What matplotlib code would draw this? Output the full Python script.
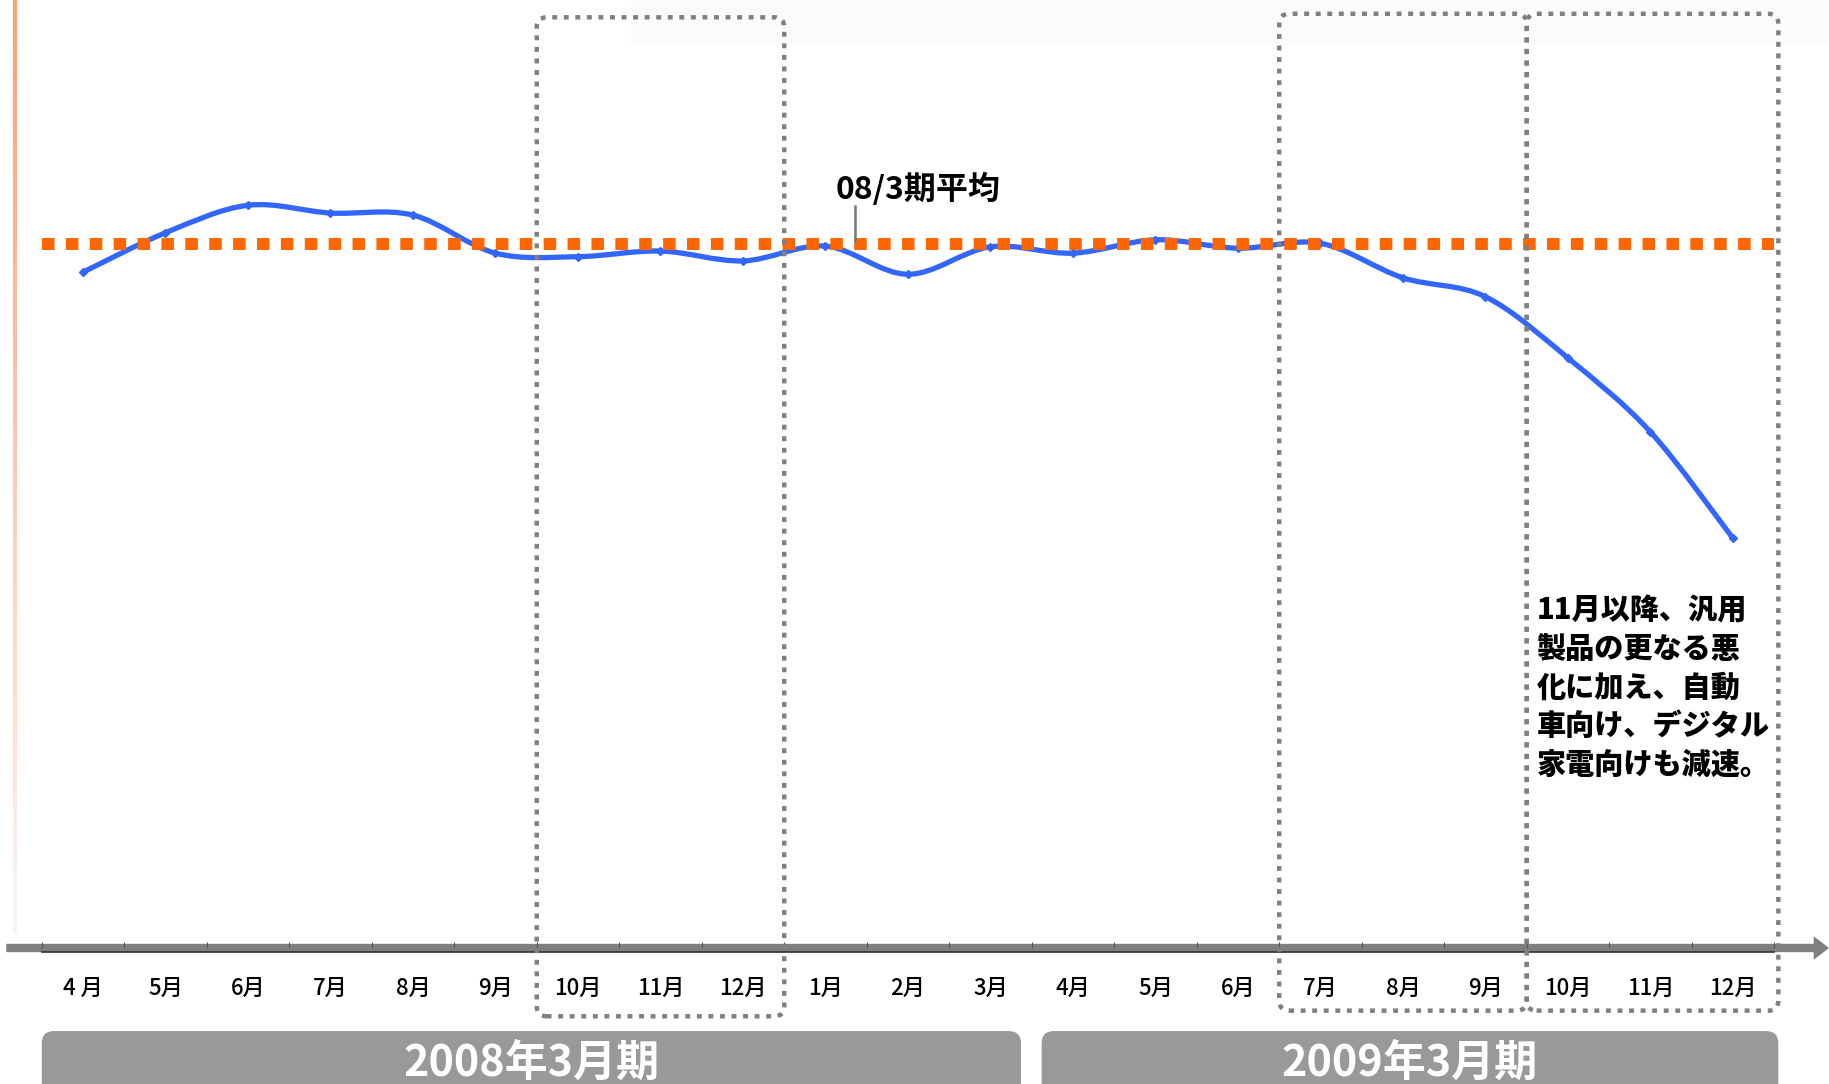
import numpy as np
import matplotlib.pyplot as plt
from matplotlib.path import Path
from matplotlib.patches import PathPatch, FancyBboxPatch, FancyArrowPatch, Rectangle
from matplotlib.collections import LineCollection

plt.rcParams['font.family'] = ['Noto Sans CJK JP', 'DejaVu Sans']

# monthly index (08/3 average = 100)
MONTHS = ['4 月', '5月', '6月', '7月', '8月', '9月', '10月', '11月', '12月', '1月', '2月', '3月',
          '4月', '5月', '6月', '7月', '8月', '9月', '10月', '11月', '12月']
VALUES = [96.0, 101.6, 105.5, 104.4, 104.1, 98.7, 98.2, 99.0, 97.6, 99.7, 95.7, 99.6,
          98.7, 100.6, 99.4, 100.1, 95.2, 92.5, 83.8, 73.3, 58.2]
AVG_0803 = 100.0
AVG_LABEL = '08/3期平均'
PERIODS = ['2008年3月期', '2009年3月期']
PERIOD_SPANS = [(-0.5, 11.37), (11.62, 20.55)]
HIGHLIGHT_SPANS = [(5.5, 8.5, -9.7, 132.2), (14.5, 17.5, -8.9, 132.7), (17.5, 20.55, -8.9, 132.7)]
NOTE = ['11月以降、汎用', '製品の更なる悪', '化に加え、自動', '車向け、デジタル', '家電向けも減速。']

BLUE = '#3366ff'
ORANGE = '#ff6600'
GRAY = '#808080'


def smooth_path(x, y):
    # catmull-rom style bezier through the points (like excel smoothed lines)
    verts = [(x[0], y[0])]
    codes = [Path.MOVETO]
    n = len(x)
    for i in range(n - 1):
        p0 = max(i - 1, 0)
        p3 = min(i + 2, n - 1)
        c1 = (x[i] + (x[i + 1] - x[p0]) / 6, y[i] + (y[i + 1] - y[p0]) / 6)
        c2 = (x[i + 1] - (x[p3] - x[i]) / 6, y[i + 1] - (y[p3] - y[i]) / 6)
        verts += [c1, c2, (x[i + 1], y[i + 1])]
        codes += [Path.CURVE4] * 3
    return Path(verts, codes)


fig = plt.figure(figsize=(18.29, 10.84), dpi=100)
ax = fig.add_axes([0, 0, 1, 1])
ax.set_xlim(-1.006, 21.164)
ax.set_ylim(-19.32, 134.66)
ax.axis('off')
aspect = (1829 / 22.17) / (1084 / 153.98)

x = np.arange(len(VALUES))

# faint background strip at top and orange fading edge on the left
ax.add_patch(Rectangle((6.64, 128.3), 15, 10, color='#fbfbfd', lw=0, zorder=0))
ys = np.linspace(134.66, 2, 60)
segs = [[(-0.824, ys[i]), (-0.824, ys[i + 1])] for i in range(len(ys) - 1)]
alphas = np.linspace(0.9, 0.1, len(segs))
cols = [(0.94, 0.6, 0.42, a) for a in alphas]
ax.add_collection(LineCollection(segs, colors=cols, linewidths=3, zorder=1))

# data line
ax.add_patch(PathPatch(smooth_path(x, VALUES), fill=False, edgecolor=BLUE, lw=3.8,
                       capstyle='round', joinstyle='round', zorder=3))
ax.plot(x, VALUES, ls='none', marker='D', ms=4, color=BLUE, zorder=3)

# 08/3 average
ax.plot([-0.5, 20.5], [AVG_0803, AVG_0803], color=ORANGE, lw=8.6, dashes=(1.05, 0.95),
        dash_capstyle='butt', solid_capstyle='butt', zorder=4)
ax.plot([9.36, 9.36], [AVG_0803 + 0.4, AVG_0803 + 5.4], color='#777777', lw=1.8, zorder=4)
ax.text(9.12, 107.7, AVG_LABEL, fontsize=23, fontweight='bold', ha='left', va='center', zorder=6)

# highlight boxes
for x0, x1, y0, y1 in HIGHLIGHT_SPANS:
    ax.add_patch(FancyBboxPatch((x0, y0), x1 - x0, y1 - y0,
                                boxstyle='round,pad=0,rounding_size=0.12', mutation_aspect=aspect,
                                fill=False, edgecolor=GRAY, lw=3.2, linestyle=(0, (1.1, 1.5)),
                                zorder=5))

# horizontal axis with arrow
ax.add_patch(FancyArrowPatch((-0.93, 0), (21.164, 0),
                             arrowstyle='simple,head_length=0.55,head_width=0.85,tail_width=0.3',
                             mutation_scale=20, color='#7f7f7f', lw=0, shrinkA=0, shrinkB=0,
                             zorder=2))
ax.plot([-0.5, 20.5], [-0.6, -0.6], color='#333333', lw=1.2, zorder=2)
ax.vlines(np.arange(-0.5, 21), 0, 0.9, color='#555555', lw=0.8, zorder=2)

for i, m in enumerate(MONTHS):
    ax.text(i, -5.8, m, fontsize=16, fontweight='medium', ha='center', va='center', zorder=6)

# fiscal period bars
for (x0, x1), name in zip(PERIOD_SPANS, PERIODS):
    ax.add_patch(FancyBboxPatch((x0, -30), x1 - x0, 18.2,
                                boxstyle='round,pad=0,rounding_size=0.15', mutation_aspect=aspect,
                                color='#999999', lw=0, zorder=2))
    ax.text((x0 + x1) / 2, -16.4, name, fontsize=31, fontweight='bold', color='white',
            ha='center', va='center', zorder=6)

# note, one line at a time (line pitch ~38.5 px)
for k, line in enumerate(NOTE):
    ax.text(17.62, 47.9 - k * 5.47, line, fontsize=21, fontweight='black',
            ha='left', va='center', zorder=6)

fig.savefig('out.png', dpi=100)
